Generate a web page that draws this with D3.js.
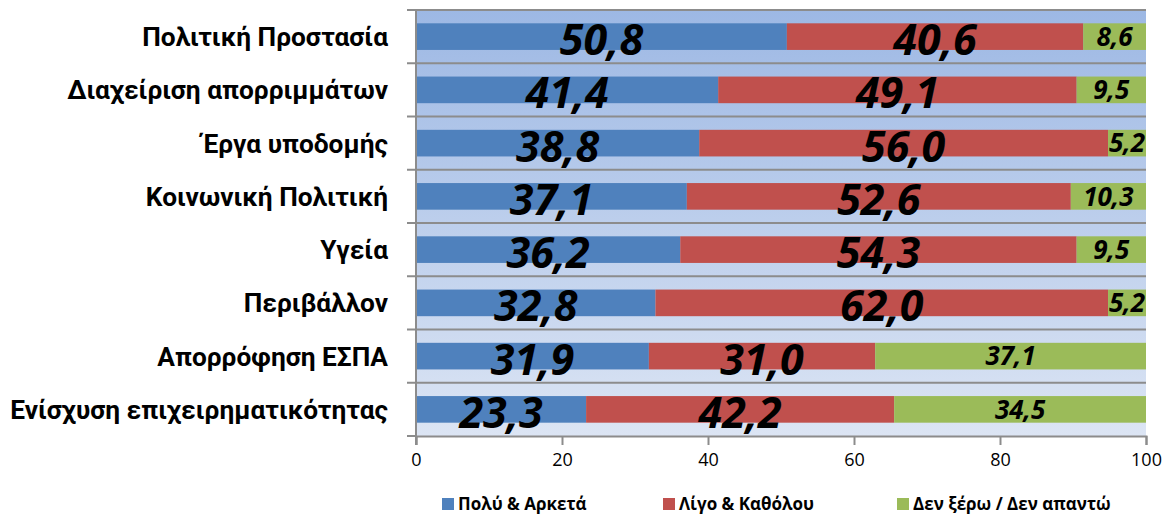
<!DOCTYPE html>
<html><head><meta charset="utf-8">
<script src="https://cdn.jsdelivr.net/npm/d3@7"></script>
<style>body{margin:0;background:#fff}svg{display:block}</style>
</head><body>
<svg id="chart" width="1164" height="514"></svg>
<script>
const categories = ["Πολιτική Προστασία","Διαχείριση απορριμμάτων","Έργα υποδομής","Κοινωνική Πολιτική","Υγεία","Περιβάλλον","Απορρόφηση ΕΣΠΑ","Ενίσχυση επιχειρηματικότητας"];
const seriesNames = ["Πολύ & Αρκετά","Λίγο & Καθόλου","Δεν ξέρω / Δεν απαντώ"];
const polyArketa = [50.8,41.4,38.8,37.1,36.2,32.8,31.9,23.3];
const ligoKatholou = [40.6,49.1,56.0,52.6,54.3,62.0,31.0,42.2];
const denXero = [8.6,9.5,5.2,10.3,9.5,5.2,37.1,34.5];
const xTicks = [0,20,40,60,80,100];

const colors = ["#4f81bd","#c0504d","#9bbb59"];
const FONT = "'Open Sans', sans-serif";
const LFONT = "Roboto, 'Open Sans', sans-serif";
const svg = d3.select("#chart");
const m = {left:416, right:1146, top:10, bottom:436};

const x = d3.scaleLinear().domain([0,100]).range([m.left,m.right]);
const y = d3.scaleBand().domain(categories).range([m.top,m.bottom]).paddingInner(0.5).paddingOuter(0.25);

const rows = categories.map((c,i)=>({cat:c, vals:[polyArketa[i],ligoKatholou[i],denXero[i]]}));
const keys = [0,1,2];
const stack = d3.stack().keys(keys).value((d,k)=>d.vals[k]);
const stacked = stack(rows);

// background gradient
const defs = svg.append("defs");
const grad = defs.append("linearGradient").attr("id","bg").attr("x1",0).attr("y1",0).attr("x2",0).attr("y2",1);
grad.append("stop").attr("offset","0%").attr("stop-color","#9db8e4");
grad.append("stop").attr("offset","100%").attr("stop-color","#dce5f4");
svg.append("rect").attr("x",m.left).attr("y",m.top).attr("width",m.right-m.left).attr("height",m.bottom-m.top).attr("fill","url(#bg)");

// gridlines at category boundaries
const bounds = d3.range(categories.length+1).map(i=> m.top + i*(m.bottom-m.top)/categories.length);
svg.append("g").selectAll("line").data(bounds.slice(0,-1)).join("line")
  .attr("x1",m.left-9).attr("x2",m.right).attr("y1",d=>d).attr("y2",d=>d)
  .attr("stroke","#8c8c8c").attr("stroke-width",2);

// bars
const g = svg.append("g");
stacked.forEach((s,k)=>{
  g.append("g").selectAll("rect").data(s).join("rect")
    .attr("x",d=>x(d[0])).attr("width",d=>x(d[1])-x(d[0]))
    .attr("y",d=>y(d.data.cat)).attr("height",y.bandwidth())
    .attr("fill",colors[k]);
});

// y axis line + bottom axis
svg.append("line").attr("x1",m.left).attr("x2",m.left).attr("y1",m.top).attr("y2",m.bottom+9).attr("stroke","#8c8c8c").attr("stroke-width",2);
const xAxis = svg.append("g").attr("transform",`translate(0,${m.bottom})`)
  .call(d3.axisBottom(x).tickValues(xTicks).tickSize(9).tickPadding(8).tickFormat(d3.format("d")));
xAxis.select(".domain").attr("stroke","#8c8c8c").attr("stroke-width",2);
xAxis.selectAll(".tick line").attr("stroke","#8c8c8c").attr("stroke-width",2);
xAxis.selectAll("text").attr("font-family",FONT).attr("font-size",18).attr("fill","#000");
svg.append("line").attr("x1",m.left-9).attr("x2",m.left).attr("y1",m.bottom).attr("y2",m.bottom).attr("stroke","#8c8c8c").attr("stroke-width",2);

// category labels
const catG = svg.append("g");
const catTexts = catG.selectAll("text").data(categories).join("text")
  .attr("x",388).attr("y",d=>y(d)+y.bandwidth()/2).attr("dy","0.36em")
  .attr("text-anchor","end").attr("font-family",LFONT).attr("font-weight","bold").attr("font-size",20)
  .attr("fill","#000").text(d=>d);
let maxW = 0; catTexts.each(function(){maxW=Math.max(maxW,this.getComputedTextLength());});
const fs = 20*378/maxW;
catTexts.attr("font-size",fs);

// value labels
const fmt = v => d3.format(".1f")(v).replace(".",",");
stacked.forEach((s,k)=>{
  svg.append("g").selectAll("text").data(s).join("text")
    .attr("x",d=>(x(d[0])+x(d[1]))/2)
    .attr("y",d=>y(d.data.cat)+y.bandwidth()/2 + (k<2?3:0)).attr("dy","0.36em")
    .attr("text-anchor","middle").attr("font-family",FONT).attr("font-weight","bold").attr("font-style","italic")
    .attr("font-size",k<2?43:26).attr("fill","#000")
    .text(d=>fmt(d.data.vals[k]));
});

// legend
const legendX = [442,663,897];
const lg = svg.append("g");
seriesNames.forEach((n,k)=>{
  lg.append("rect").attr("x",legendX[k]).attr("y",498).attr("width",12).attr("height",12).attr("fill",colors[k]);
  lg.append("text").attr("x",legendX[k]+16).attr("y",504).attr("dy","0.36em")
    .attr("font-family",FONT).attr("font-weight","bold").attr("font-size",17).attr("fill","#000").text(n);
});
</script>
</body></html>
